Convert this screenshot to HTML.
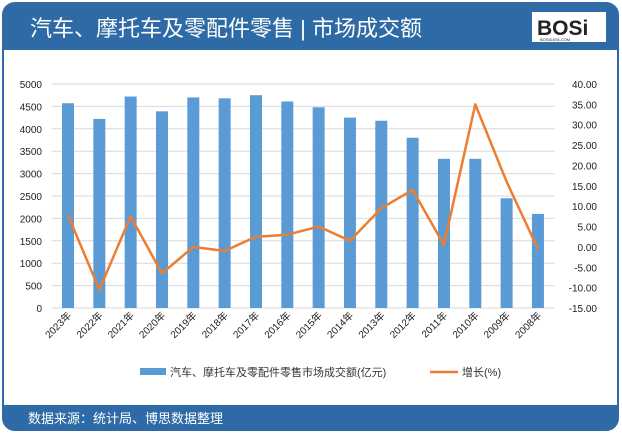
<!DOCTYPE html><html><head><meta charset="utf-8"><style>
body{margin:0;width:622px;height:433px;background:#fff;font-family:"Liberation Sans","Noto Sans CJK SC",sans-serif;overflow:hidden}
</style></head><body>
<svg width="622" height="433" viewBox="0 0 622 433" xmlns="http://www.w3.org/2000/svg" font-family="Liberation Sans, Noto Sans CJK SC, sans-serif">
<rect x="3" y="3" width="615" height="427" rx="12" fill="#fff" stroke="#2e6aa6" stroke-width="2"/>
<path d="M3 50 V15 Q3 3 15 3 H606 Q618 3 618 15 V50 Z" fill="#2e6aa6"/>
<path d="M3 405 V418 Q3 430 15 430 H606 Q618 430 618 418 V405 Z" fill="#2e6aa6"/>
<text x="30" y="36" font-size="22" fill="#fff">汽车、摩托车及零配件零售 | 市场成交额</text>
<rect x="532" y="12" width="74" height="30" fill="#fff"/>
<text x="537" y="35" font-size="21" font-weight="bold" fill="#222">BOSi</text>
<text x="540" y="41" font-size="4" fill="#222">BOSIDATA.COM</text>
<text x="28" y="423" font-size="13" fill="#fff">数据来源：统计局、博思数据整理</text>
<g stroke="#d9d9d9" stroke-width="1" id="g"></g>
<g font-size="10" fill="#222" id="t"></g>
<g id="b" fill="#5b9bd5"></g>
<polyline id="l" fill="none" stroke="#ed7d31" stroke-width="2.5" stroke-linejoin="round"/>
<rect x="140" y="368" width="26" height="7" fill="#5b9bd5"/>
<text x="170" y="376" font-size="11" fill="#333">汽车、摩托车及零配件零售市场成交额(亿元)</text>
<line x1="430" y1="372" x2="458" y2="372" stroke="#ed7d31" stroke-width="2.5"/>
<text x="462" y="376" font-size="11" fill="#333">增长(%)</text>
</svg>
<script>
var ns="http://www.w3.org/2000/svg";
function el(p,n,a,txt){var e=document.createElementNS(ns,n);for(var k in a)e.setAttribute(k,a[k]);if(txt!=null)e.textContent=txt;document.getElementById(p).appendChild(e);}
var y0=308,x0=52,x1=555;
for(var i=0;i<=10;i++){var y=y0-i*22.4;el("g","line",{x1:x0,x2:x1,y1:y,y2:y});
el("t","text",{x:42,y:y+4,"text-anchor":"end"},String(i*500));}
for(var i=0;i<=11;i++){var y=y0-i*224/11;
el("t","text",{x:597,y:y+4,"text-anchor":"end"},(-15+i*5).toFixed(2));}
var yrs=[2023,2022,2021,2020,2019,2018,2017,2016,2015,2014,2013,2012,2011,2010,2009,2008];
var v=[4570,4220,4720,4390,4700,4680,4750,4610,4480,4250,4180,3800,3330,3330,2450,2100];
var g=[7.8,-10.5,7.5,-6.5,0,-1,2.5,3,5,1.5,9.5,14,0.5,35,16,-0.5];
var pts=[];
for(var i=0;i<16;i++){var cx=68+i*31.33;var h=v[i]/500*22.4;
el("b","rect",{x:cx-6,y:y0-h,width:12,height:h});
pts.push(cx+","+(y0-(g[i]+15)*224/55));
el("t","text",{x:cx+4,y:316,"text-anchor":"end",transform:"rotate(-45 "+(cx+4)+" 316)"},yrs[i]+"年");}
document.getElementById("l").setAttribute("points",pts.join(" "));
</script>
</body></html>
